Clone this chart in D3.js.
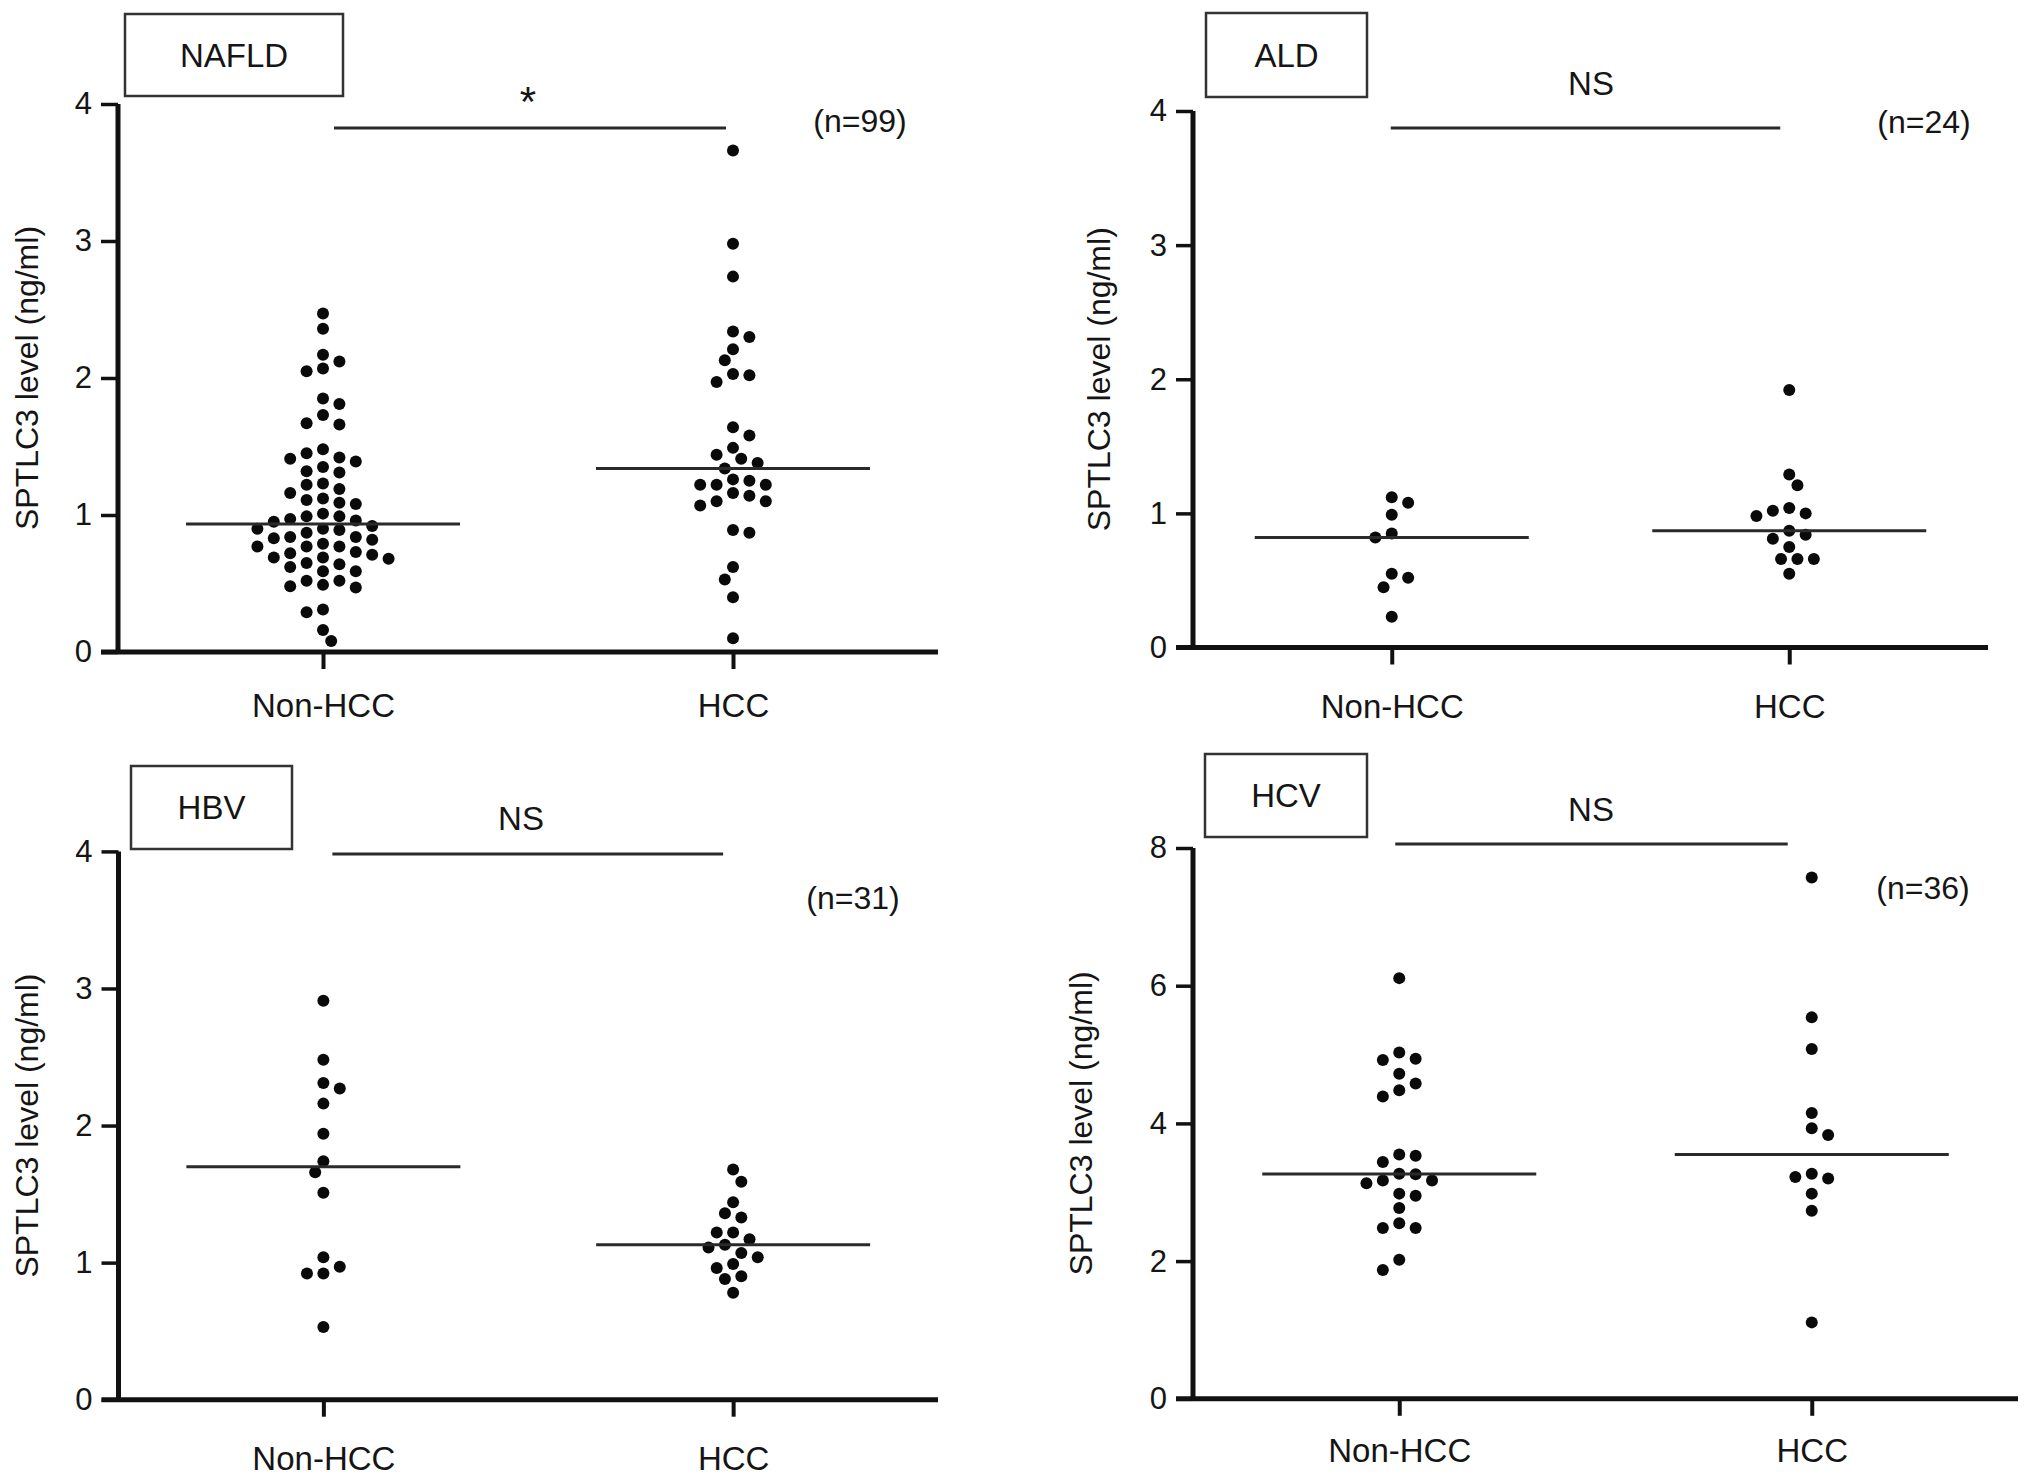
<!DOCTYPE html>
<html>
<head>
<meta charset="utf-8">
<script src="https://cdn.jsdelivr.net/npm/d3@7"></script>
<style>
  body { margin: 0; background: #fff; }
  text { font-family: 'Liberation Sans', Arial, sans-serif; fill: #151515; }
</style>
</head>
<body>
<svg id="chart" width="2032" height="1483"></svg>
<script>
// categories and labels
const categories = ['Non-HCC', 'HCC'];
const panelNames = ['NAFLD', 'ALD', 'HBV', 'HCV'];
const sigLabels = ['*', 'NS', 'NS', 'NS'];
const nLabels = ['(n=99)', '(n=24)', '(n=31)', '(n=36)'];
const yTitle = 'SPTLC3 level (ng/ml)';
const yTicks4 = [0, 1, 2, 3, 4];
const yTicks8 = [0, 2, 4, 6, 8];

// SPTLC3 values (ng/ml)
const nafldNonHcc = [2.47, 2.36, 2.17, 2.12, 2.05, 2.07, 1.85, 1.81, 1.73, 1.66, 1.67,
  1.48, 1.45, 1.41, 1.39, 1.42, 1.35, 1.31, 1.32, 1.22, 1.23, 1.16, 1.19, 1.12, 1.09,
  1.08, 1.11, 1.01, 0.99, 0.99, 0.96, 0.92, 0.90, 0.89, 0.90, 0.95, 0.97, 0.87, 0.84,
  0.84, 0.82, 0.83, 0.77, 0.77, 0.77, 0.79, 0.71, 0.69, 0.72, 0.73, 0.68, 0.69, 0.65,
  0.64, 0.62, 0.59, 0.59, 0.52, 0.49, 0.47, 0.48, 0.52, 0.31, 0.29, 0.16, 0.08];
const nafldHcc = [3.66, 2.98, 2.74, 2.34, 2.30, 2.21, 2.13, 2.03, 2.02, 1.97, 1.64,
  1.58, 1.49, 1.44, 1.38, 1.41, 1.34, 1.25, 1.22, 1.22, 1.22, 1.26, 1.16, 1.10, 1.07,
  1.10, 1.14, 0.89, 0.87, 0.62, 0.53, 0.40, 0.10];
const aldNonHcc = [1.08, 1.12, 0.99, 0.82, 0.85, 0.52, 0.55, 0.45, 0.23];
const aldHcc = [1.92, 1.29, 1.21, 1.02, 0.98, 1.00, 1.04, 0.87, 0.81, 0.84, 0.75,
  0.66, 0.66, 0.66, 0.55];
const hbvNonHcc = [2.91, 2.48, 2.31, 2.27, 2.16, 1.94, 1.74, 1.66, 1.51, 1.04, 0.97,
  0.92, 0.92, 0.53];
const hbvHcc = [1.68, 1.59, 1.44, 1.33, 1.36, 1.22, 1.22, 1.17, 1.11, 1.13, 1.07,
  1.04, 0.99, 0.96, 0.90, 0.88, 0.78];
const hcvNonHcc = [6.11, 5.03, 4.94, 4.92, 4.72, 4.58, 4.48, 4.39, 3.55, 3.53, 3.44,
  3.26, 3.27, 3.17, 3.13, 3.17, 2.98, 2.95, 2.77, 2.48, 2.48, 2.55, 2.02, 1.87];
const hcvHcc = [7.57, 5.54, 5.08, 4.15, 3.93, 3.83, 3.27, 3.22, 3.20, 2.98, 2.73, 1.11];

const groups = [
  [nafldNonHcc, nafldHcc],
  [aldNonHcc, aldHcc],
  [hbvNonHcc, hbvHcc],
  [hcvNonHcc, hcvHcc]
];
const yMaxes = [4, 4, 4, 8];
const yTickSets = [yTicks4, yTicks4, yTicks4, yTicks8];

// panel placement on the page
const layout = [
  { left: 118, right: 938, top: 104, bottom: 652, box: [125, 14, 218, 82],
    sig: [11, -7, 128], sigText: [528, 116], nText: [860, 132], yTitleX: 27, catGap: 65 },
  { left: 1193, right: 1988, top: 111, bottom: 647.5, box: [1206, 13, 161, 84],
    sig: [-1, -9, 128], sigText: [1591, 95], nText: [1924, 133], yTitleX: 1099, catGap: 70 },
  { left: 118.5, right: 938, top: 851.4, bottom: 1399.7, box: [131, 766, 161, 83],
    sig: [9, -10, 854], sigText: [521, 830], nText: [853, 909], yTitleX: 27, catGap: 70 },
  { left: 1193, right: 2018, top: 848, bottom: 1398.8, box: [1205, 754, 162, 83],
    sig: [-4, -24, 844], sigText: [1591, 821], nText: [1923, 899], yTitleX: 1081, catGap: 63 }
];

const dotR = 6;
const medianHalf = 137;

const svg = d3.select('#chart');

// simple beeswarm: put each dot as close to the column centre as it fits
function swarm(values, y, step, minDist) {
  const pts = values.map(v => ({ v: v, py: y(v) }))
    .sort((a, b) => d3.descending(a.v, b.v));
  const placed = [];
  let flip = 1;
  pts.forEach(p => {
    for (let k = 0; k < 40; k++) {
      const cands = k === 0 ? [0] : [flip * k * step, -flip * k * step];
      const off = cands.find(o => placed.every(q =>
        (q.dx - o) ** 2 + (q.py - p.py) ** 2 >= minDist * minDist));
      if (off !== undefined) {
        p.dx = off;
        placed.push(p);
        if (off !== 0) flip = -Math.sign(off);
        break;
      }
    }
  });
  return placed;
}

layout.forEach((p, i) => {
  const g = svg.append('g');

  const y = d3.scaleLinear().domain([0, yMaxes[i]]).range([p.bottom, p.top]);
  const x = d3.scalePoint().domain(categories).range([p.left, p.right]).padding(0.5);

  // y axis
  const ya = g.append('g')
    .attr('transform', `translate(${p.left},0)`)
    .call(d3.axisLeft(y).tickValues(yTickSets[i]).tickFormat(d3.format('d'))
      .tickSize(17).tickPadding(9).tickSizeOuter(0));
  ya.select('.domain').remove();
  ya.selectAll('line').attr('stroke', '#111').attr('stroke-width', 3.5);
  ya.selectAll('text').attr('font-size', '31px').attr('fill', '#151515');

  // x axis
  const xa = g.append('g')
    .attr('transform', `translate(0,${p.bottom})`)
    .call(d3.axisBottom(x).tickSize(17).tickPadding(p.catGap - 17 - 23.4).tickSizeOuter(0));
  xa.select('.domain').remove();
  xa.selectAll('line').attr('stroke', '#111').attr('stroke-width', 4);
  xa.selectAll('text').attr('font-size', '33px').attr('fill', '#151515');

  // axis lines
  g.append('line')
    .attr('x1', p.left).attr('x2', p.left)
    .attr('y1', p.top).attr('y2', p.bottom)
    .attr('stroke', '#111').attr('stroke-width', 5);
  g.append('line')
    .attr('x1', p.left - 17).attr('x2', p.right)
    .attr('y1', p.bottom).attr('y2', p.bottom)
    .attr('stroke', '#111').attr('stroke-width', 5);

  // y title
  g.append('text')
    .attr('transform', `translate(${p.yTitleX},${(p.top + p.bottom) / 2}) rotate(-90)`)
    .attr('dy', '0.35em')
    .style('text-anchor', 'middle')
    .attr('font-size', '32px')
    .text(yTitle);

  // dots and medians
  categories.forEach((c, j) => {
    const vals = groups[i][j];
    const pts = swarm(vals, y, 8.2, 13.5);
    g.append('g').selectAll('circle')
      .data(pts)
      .enter()
      .append('circle')
      .attr('cx', d => x(c) + d.dx)
      .attr('cy', d => d.py)
      .attr('r', dotR)
      .attr('fill', '#0a0a0a');

    const m = d3.median(vals);
    g.append('line')
      .attr('x1', x(c) - medianHalf).attr('x2', x(c) + medianHalf)
      .attr('y1', y(m)).attr('y2', y(m))
      .attr('stroke', '#2a2a2a').attr('stroke-width', 3);
  });

  // group name box
  g.append('rect')
    .attr('x', p.box[0]).attr('y', p.box[1])
    .attr('width', p.box[2]).attr('height', p.box[3])
    .attr('fill', 'none').attr('stroke', '#333').attr('stroke-width', 2.5);
  g.append('text')
    .attr('x', p.box[0] + p.box[2] / 2)
    .attr('y', p.box[1] + p.box[3] / 2)
    .attr('dy', '0.35em')
    .style('text-anchor', 'middle')
    .attr('font-size', '33px')
    .text(panelNames[i]);

  // significance bar
  const star = sigLabels[i] === '*';
  g.append('line')
    .attr('x1', x(categories[0]) + p.sig[0]).attr('x2', x(categories[1]) + p.sig[1])
    .attr('y1', p.sig[2]).attr('y2', p.sig[2])
    .attr('stroke', '#2a2a2a').attr('stroke-width', 3);
  g.append('text')
    .attr('x', p.sigText[0]).attr('y', p.sigText[1])
    .style('text-anchor', 'middle')
    .attr('font-size', star ? '42px' : '33px')
    .attr('fill', star ? '#555' : '#151515')
    .text(sigLabels[i]);

  // sample size
  g.append('text')
    .attr('x', p.nText[0]).attr('y', p.nText[1])
    .style('text-anchor', 'middle')
    .attr('font-size', '32px')
    .text(nLabels[i]);
});
</script>
</body>
</html>
